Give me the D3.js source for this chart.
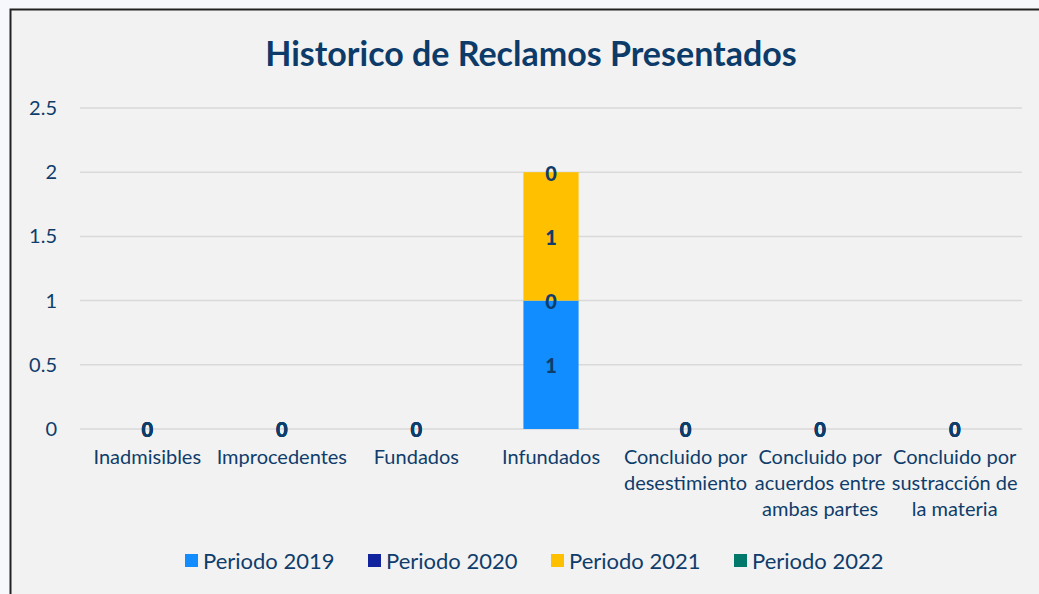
<!DOCTYPE html>
<html>
<head>
<meta charset="utf-8">
<script src="https://cdn.jsdelivr.net/npm/d3@7"></script>
<style>
    body { margin: 0; background: #f6f8fc; }
    #chart { position: absolute; left: 0; top: 0; }
    text { font-family: Lato, "Open Sans", sans-serif; }
</style>
</head>
<body>
<div id="chart"></div>
<script>

// chart data
let categories = [
    "Inadmisibles", "Improcedentes", "Fundados", "Infundados",
    "Concluido por desestimiento", "Concluido por acuerdos entre ambas partes",
    "Concluido por sustracción de la materia"
];
let categoryLines = [
    ["Inadmisibles"], ["Improcedentes"], ["Fundados"], ["Infundados"],
    ["Concluido por", "desestimiento"],
    ["Concluido por", "acuerdos entre", "ambas partes"],
    ["Concluido por", "sustracción de", "la materia"]
];
let seriesNames = ["Periodo 2019", "Periodo 2020", "Periodo 2021", "Periodo 2022"];
let periodo2019 = [0, 0, 0, 1, 0, 0, 0];
let periodo2020 = [0, 0, 0, 0, 0, 0, 0];
let periodo2021 = [0, 0, 0, 1, 0, 0, 0];
let periodo2022 = [0, 0, 0, 0, 0, 0, 0];
let yTicks = [0, 0.5, 1, 1.5, 2, 2.5];

let colors = ["#118dff", "#12239e", "#ffc000", "#00796b"];
let textColor = "#0f3d6b";

// build table for stack
let seriesValues = [periodo2019, periodo2020, periodo2021, periodo2022];
let table = categories.map((c, i) => {
    let row = {category: c, index: i};
    seriesNames.forEach((s, j) => { row[s] = seriesValues[j][i]; });
    return row;
});

let width = 1039, height = 594;
let margin = {top: 108, right: 17, bottom: 165, left: 80};

let svg = d3.select("#chart").append("svg")
    .attr("width", width)
    .attr("height", height);

// panel with border
svg.append("rect")
    .attr("x", 10.5)
    .attr("y", 9.5)
    .attr("width", 1040)
    .attr("height", 600)
    .attr("fill", "#f2f2f2")
    .attr("stroke", "#222")
    .attr("stroke-width", 2);

svg.append("text")
    .attr("x", 531)
    .attr("y", 66)
    .attr("text-anchor", "middle")
    .style("font-size", "34px")
    .style("font-weight", "bold")
    .style("fill", "#0d3b69")
    .text("Historico de Reclamos Presentados");

let innerW = width - margin.left - margin.right;
let innerH = height - margin.top - margin.bottom;

let g = svg.append("g")
    .attr("transform", "translate(" + margin.left + "," + margin.top + ")");

// scales
let x = d3.scaleBand()
    .domain(categories)
    .range([0, innerW])
    .paddingInner(0.59)
    .paddingOuter(0.295);

let xGroup = d3.scaleBand()
    .domain(categories)
    .range([0, innerW]);

let y = d3.scaleLinear()
    .domain([0, 2.5])
    .range([innerH, 0]);

// gridlines
g.selectAll(".grid")
    .data(yTicks)
    .enter().append("line")
    .attr("class", "grid")
    .attr("x1", 0)
    .attr("x2", innerW)
    .attr("y1", d => y(d))
    .attr("y2", d => y(d))
    .attr("stroke", "#d9d9d9")
    .attr("stroke-width", 1.5);

// y axis
let yAxis = d3.axisLeft(y)
    .tickValues(yTicks)
    .tickSize(0)
    .tickPadding(23)
    .tickFormat(d => d);

let yG = g.append("g").call(yAxis);
yG.select(".domain").remove();
yG.selectAll("text")
    .style("font-size", "20px")
    .style("fill", textColor);

// stacked bars
let stack = d3.stack().keys(seriesNames);
let stackedData = stack(table);

let layers = g.selectAll(".layer")
    .data(stackedData)
    .enter().append("g")
    .attr("class", "layer")
    .attr("fill", (d, i) => colors[i]);

layers.selectAll("rect")
    .data(d => d)
    .enter().append("rect")
    .attr("x", d => x(d.data.category))
    .attr("y", d => y(d[1]))
    .attr("width", x.bandwidth())
    .attr("height", d => y(d[0]) - y(d[1]));

// data labels, drawn above all bars
let labelData = [];
stackedData.forEach(layer => {
    layer.forEach(v => labelData.push({v: v, key: layer.key}));
});

g.append("g").selectAll(".label")
    .data(labelData)
    .enter().append("text")
    .attr("class", "label")
    .attr("x", d => x(d.v.data.category) + x.bandwidth() / 2)
    .attr("y", d => y((d.v[0] + d.v[1]) / 2))
    .attr("dy", "0.42em")
    .attr("text-anchor", "middle")
    .style("font-size", "20px")
    .style("font-weight", "900")
    .style("fill", textColor)
    .text(d => d.v.data[d.key]);

// x axis labels
let xLab = g.append("g")
    .attr("transform", "translate(0," + (innerH + 35) + ")");

xLab.selectAll("text")
    .data(categories)
    .enter().append("text")
    .attr("x", d => xGroup(d) + xGroup.bandwidth() / 2)
    .attr("text-anchor", "middle")
    .style("font-size", "20px")
    .style("fill", textColor)
    .each(function(d, i) {
        let t = d3.select(this);
        categoryLines[i].forEach((line, k) => {
            t.append("tspan")
                .attr("x", xGroup(d) + xGroup.bandwidth() / 2)
                .attr("y", k * 26)
                .text(line);
        });
    });

// legend
let legendX = [185, 368, 551, 734];
let legend = svg.append("g")
    .attr("transform", "translate(0,560)");

let items = legend.selectAll(".item")
    .data(seriesNames)
    .enter().append("g")
    .attr("class", "item")
    .attr("transform", (d, i) => "translate(" + legendX[i] + ",0)");

items.append("rect")
    .attr("x", 0)
    .attr("y", -6)
    .attr("width", 13)
    .attr("height", 13)
    .attr("fill", (d, i) => colors[i]);

items.append("text")
    .attr("x", 18)
    .attr("y", 1)
    .attr("dy", "0.35em")
    .style("font-size", "22px")
    .style("fill", textColor)
    .text(d => d);

</script>
</body>
</html>
